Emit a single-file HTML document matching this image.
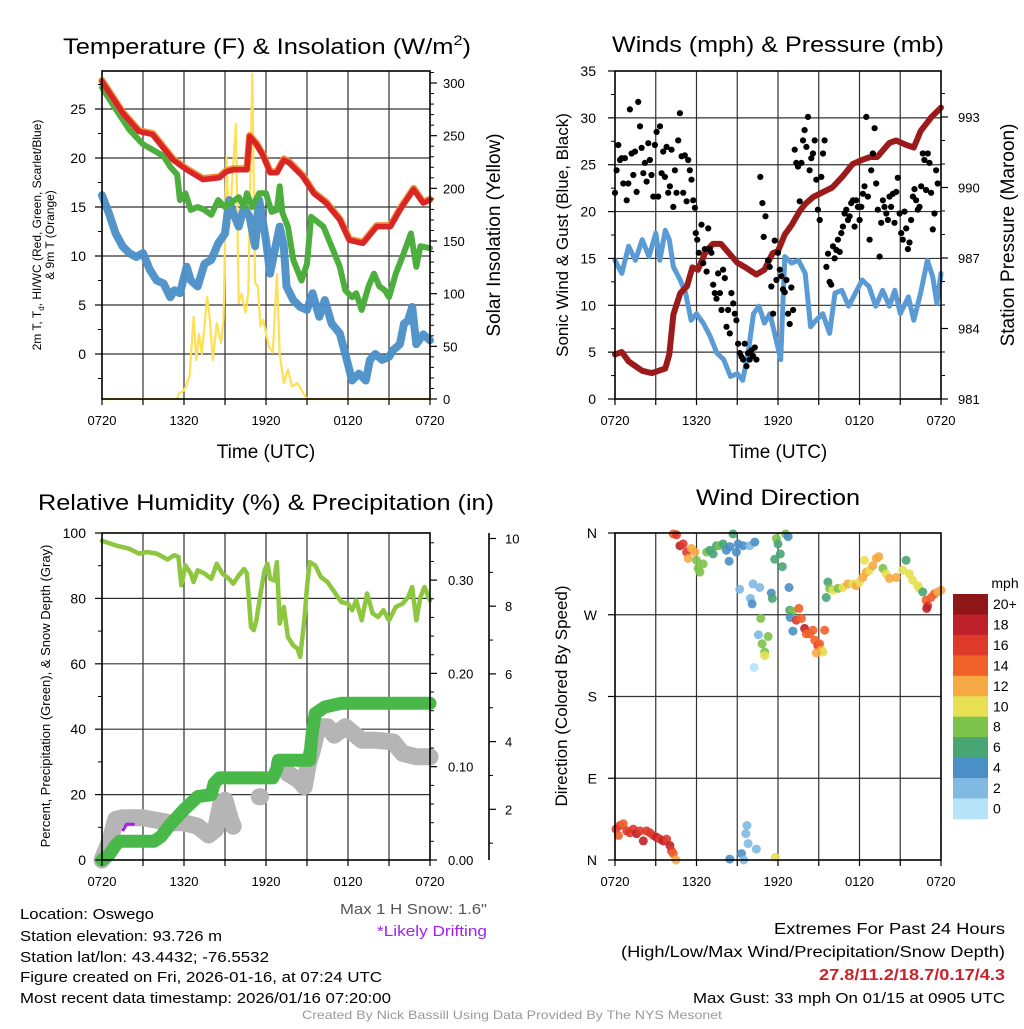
<!DOCTYPE html>
<html><head><meta charset="utf-8"><style>
html,body{margin:0;padding:0;background:#fff;}
svg text{font-family:"Liberation Sans",sans-serif;}
</style></head><body>
<svg id="chart" width="1024" height="1024" viewBox="0 0 1024 1024" xmlns="http://www.w3.org/2000/svg">
<g id="grid"></g>
<g id="marks"></g>
<g id="axes"></g>
<text x="267" y="54" font-size="22" text-anchor="middle" textLength="408" lengthAdjust="spacingAndGlyphs">Temperature (F) &amp; Insolation (W/m<tspan dy="-9" font-size="14">2</tspan><tspan dy="9">)</tspan></text>
<text x="778" y="52" font-size="22" text-anchor="middle" textLength="332" lengthAdjust="spacingAndGlyphs">Winds (mph) &amp; Pressure (mb)</text>
<text x="266" y="510" font-size="22" text-anchor="middle" textLength="456" lengthAdjust="spacingAndGlyphs">Relative Humidity (%) &amp; Precipitation (in)</text>
<text x="778" y="505" font-size="22" text-anchor="middle" textLength="164" lengthAdjust="spacingAndGlyphs">Wind Direction</text>
<text x="266" y="458" font-size="19" text-anchor="middle">Time (UTC)</text>
<text x="778" y="458" font-size="19" text-anchor="middle">Time (UTC)</text>
<text transform="translate(41,235) rotate(-90)" font-size="12" text-anchor="middle">2m T, T<tspan dy="3" font-size="8">d</tspan><tspan dy="-3">, HI/WC (Red, Green, Scarlet/Blue)</tspan></text>
<text transform="translate(54,235) rotate(-90)" font-size="12" text-anchor="middle">&amp; 9m T (Orange)</text>
<text transform="translate(500,235) rotate(-90)" font-size="19" text-anchor="middle">Solar Insolation (Yellow)</text>
<text transform="translate(568,235) rotate(-90)" font-size="17" text-anchor="middle">Sonic Wind &amp; Gust (Blue, Black)</text>
<text transform="translate(1014,235) rotate(-90)" font-size="19" text-anchor="middle">Station Pressure (Maroon)</text>
<text transform="translate(50,696) rotate(-90)" font-size="13" text-anchor="middle">Percent, Precipitation (Green), &amp; Snow Depth (Gray)</text>
<text transform="translate(567,696) rotate(-90)" font-size="17" text-anchor="middle">Direction (Colored By Speed)</text>
<text x="1005" y="588" font-size="14" text-anchor="middle">mph</text>
<g id="colorbar"></g>
<g font-size="15">
<text x="20" y="919" textLength="134" lengthAdjust="spacingAndGlyphs">Location: Oswego</text>
<text x="20" y="941" textLength="202" lengthAdjust="spacingAndGlyphs">Station elevation: 93.726 m</text>
<text x="20" y="962" textLength="249" lengthAdjust="spacingAndGlyphs">Station lat/lon: 43.4432; -76.5532</text>
<text x="20" y="982" textLength="362" lengthAdjust="spacingAndGlyphs">Figure created on Fri, 2026-01-16, at 07:24 UTC</text>
<text x="20" y="1003" textLength="371" lengthAdjust="spacingAndGlyphs">Most recent data timestamp: 2026/01/16 07:20:00</text>
</g>
<text x="487" y="914" font-size="15" text-anchor="end" fill="#555" textLength="147" lengthAdjust="spacingAndGlyphs">Max 1 H Snow: 1.6"</text>
<text x="487" y="936" font-size="15" text-anchor="end" fill="#a020f0" textLength="110" lengthAdjust="spacingAndGlyphs">*Likely Drifting</text>
<text x="1005" y="934" font-size="16" text-anchor="end" textLength="231" lengthAdjust="spacingAndGlyphs">Extremes For Past 24 Hours</text>
<text x="1005" y="957" font-size="16" text-anchor="end" textLength="384" lengthAdjust="spacingAndGlyphs">(High/Low/Max Wind/Precipitation/Snow Depth)</text>
<text x="1005" y="980" font-size="16" font-weight="bold" fill="#cc2229" text-anchor="end" textLength="186" lengthAdjust="spacingAndGlyphs">27.8/11.2/18.7/0.17/4.3</text>
<text x="1005" y="1003" font-size="15" text-anchor="end" textLength="312" lengthAdjust="spacingAndGlyphs">Max Gust: 33 mph On 01/15 at 0905 UTC</text>
<text x="512" y="1019" font-size="12" fill="#999" text-anchor="middle" textLength="420" lengthAdjust="spacingAndGlyphs">Created By Nick Bassill Using Data Provided By The NYS Mesonet</text>
</svg>
<script>
const xTickLabels = ["0720","1320","1920","0120","0720"];
const xTickHours = [0,6,12,18,24];
const redHours = [0,1.5,2.7,3.7,5.2,6.2,7.4,8.6,9.1,9.6,10.6,10.8,11.3,11.8,12.3,12.8,13.3,13.7,14.7,15.5,16.4,17.4,18.1,19.1,20.1,21.1,21.8,22.8,23.5,24];
const redTemps = [27.8,24.6,22.7,22.4,19.8,18.8,17.8,18,18.6,18.8,18.8,22.2,21.4,20.2,18.5,18.5,19.8,19.5,18.1,16.4,15.4,13.7,11.6,11.3,13,13,14.7,16.8,15.4,15.7];
const greenHours = [0,1,2,3,3.5,4.5,5,5.5,5.7,6.1,6.5,7,7.5,8,8.5,9,9.4,10,10.4,10.6,11,11.5,12,12.4,12.8,13,13.2,13.6,14,14.6,15,15.3,16.2,17,17.4,17.8,18.3,18.6,19,19.5,19.9,20.3,20.7,21,21.5,22,22.6,23,23.3,24];
const greenTemps = [27.2,25,22.9,21.4,21,20.2,19.1,18.3,15.7,16.4,14.7,15,14.7,14.2,15.7,15,15.4,16,15,16.4,15,16.4,16.4,14.5,14.7,17.1,14.4,13,9.6,7.5,9.2,14,13,10.3,8.9,6.5,5.8,6.2,4.5,6.9,8.2,6.9,6.5,5.8,8.2,10,12.3,8.9,11,10.8];
const blueHours = [0,0.5,1,1.5,2,2.5,3,3.5,4,4.5,5,5.3,5.7,6.2,6.5,7,7.5,8,8.5,9,9.3,9.6,10,10.4,10.8,11.2,11.5,12,12.3,12.6,13,13.3,13.5,14,14.5,15,15.4,15.9,16.3,16.8,17.4,17.8,18.3,18.8,19.3,19.6,20,20.5,21,21.3,21.8,22.1,22.4,22.7,23,23.5,24];
const blueTemps = [16.2,14.4,12.3,11,10.3,9.9,10.3,8.6,7.5,7.2,5.8,6.5,6.2,8.9,7.5,6.9,9.2,9.6,11.3,12.3,15.7,14.4,13,15,14,11,15.7,11.6,8.2,10.3,13,11,6.9,5.5,4.8,4.5,6.2,3.8,5.5,3.1,2.1,0,-2.7,-2,-2.7,-0.6,0,-0.6,-0.3,0.4,1,3.1,3.4,4.8,1,2,1.4];
const solarHours = [0,5.5,5.6,6,6.4,6.7,6.9,7.1,7.3,7.7,7.9,8.1,8.4,8.7,8.9,9.1,9.3,9.5,9.8,10,10.2,10.5,10.7,11,11.2,11.4,11.6,11.8,12.2,12.5,12.8,13,13.3,13.6,13.9,14.3,15,24];
const solarVals = [0,0,5,8,21,78,37,62,43,97,75,37,72,53,75,230,163,201,261,91,100,82,100,309,110,107,69,75,50,44,119,43,15,28,12,15,0,0];
const windHours = [0,0.5,1,1.5,2,2.5,3,3.3,3.7,4,4.3,4.8,5.2,5.6,6,6.5,7,7.5,8,8.5,9,9.4,9.8,10.2,10.6,11,11.4,11.8,12.2,12.5,13,13.5,14,14.4,14.8,15.3,15.8,16.2,16.7,17.2,17.7,18.2,18.7,19.2,19.7,20.2,20.6,21,21.6,22,22.5,23,23.4,23.7,24];
const windVals = [14.8,13.4,16.3,14.8,17,15.2,17.7,14.8,18,17,14.1,12.7,11.3,8.4,9.1,8.1,6.7,4.9,4.2,2.4,2.7,2,4.9,9.1,9.9,8.1,9.1,6.7,4.2,15.2,14.5,14.8,13.4,7.7,8.4,9.1,7,11.3,11.6,9.9,11.3,12.7,12,9.9,11.6,9.9,11.6,9.1,10.9,8.4,11.3,14.8,13,10.2,13.4];
const gustHours = [0,0.12,0.24,0.37,0.49,0.61,0.73,0.86,0.98,1.1,1.22,1.35,1.47,1.59,1.71,1.84,1.96,2.08,2.2,2.33,2.45,2.57,2.69,2.82,2.94,3.06,3.18,3.31,3.43,3.55,3.67,3.8,3.92,4.04,4.16,4.29,4.41,4.53,4.65,4.78,4.9,5.02,5.14,5.27,5.39,5.51,5.63,5.76,5.88,5.95,6.05,6.17,6.37,6.49,6.61,6.74,6.86,6.98,7.1,7.23,7.35,7.47,7.59,7.72,7.84,7.96,8.08,8.21,8.33,8.45,8.57,8.7,8.82,8.94,9.06,9.19,9.31,9.43,9.55,9.68,9.8,9.92,10.04,10.16,10.29,10.41,10.7,10.85,10.95,11.08,11.27,11.39,11.51,11.64,11.76,11.88,12,12.13,12.25,12.37,12.49,12.62,12.74,12.86,12.98,13.11,13.23,13.35,13.47,13.6,13.72,13.84,13.96,14.09,14.21,14.33,14.45,14.58,14.7,14.82,14.94,15.07,15.19,15.31,15.43,15.56,15.68,15.8,15.92,16.05,16.17,16.29,16.41,16.54,16.66,16.78,16.9,17.03,17.15,17.27,17.39,17.52,17.64,17.76,17.88,18.01,18.13,18.25,18.37,18.5,18.62,18.74,18.86,18.99,19.11,19.23,19.35,19.48,19.6,19.72,19.84,19.97,20.09,20.21,20.33,20.46,20.58,20.7,20.82,20.95,21.07,21.19,21.31,21.44,21.56,21.68,21.8,21.93,22.05,22.17,22.29,22.42,22.54,22.66,22.78,22.9,23.03,23.15,23.27,23.4,23.52,23.64,23.76];
const gustVals = [22,24.4,27.1,25.5,25.7,23,25.7,21.2,23,30.9,26.2,23.9,26.4,22.1,31.7,29.1,26.8,24.1,25.2,23.2,27.3,25.5,23.9,21.6,27.1,28.5,21.6,29.1,24.1,26.4,23.7,26.9,22,22.7,26.6,20.5,24.4,22,27.6,30.5,25.9,22,26,21.1,25.5,24.4,23.4,21.2,20.4,17.7,17,15.6,18.6,14.5,16,13.6,18.2,16,15.6,12.2,11.3,10.7,13.4,11.3,9.5,13.8,12.9,7.7,9.5,7,11.3,10.2,9.1,8.4,5.9,4.9,4.5,4.2,5.9,3.5,4.9,4.2,5.2,4.6,5.5,4.2,23.7,20.9,17.3,19.5,14.8,14.1,12,9.1,16.9,12.7,15.6,13.8,13.1,11.7,11.4,12.7,9.1,8,11.9,9.5,26.6,25.2,24.8,21.1,25.2,27.6,28.7,26.9,30.1,24.4,25.7,26.2,27.6,23.4,20.2,19.1,23.7,26.2,27.6,14.1,15.5,12.5,12.2,16.3,15,15.9,17,15.7,17.7,18.4,19.8,20.2,19.1,19.5,20.9,21.2,18.4,21.2,20.5,19.1,20.5,21.9,22.7,30.1,21.6,17,24.4,26.2,28.9,23,20.2,15.2,18.8,21.2,20.5,19.8,19.1,21.6,20.5,21.9,18.8,22.1,23.6,19.8,17.7,17,20,18.2,16,16.7,19.1,21.6,22.4,21.2,20.2,20.5,22.7,26.2,25.5,22.3,26.2,25.2,22,18.1,19.8,24.4,23];
const pressHours = [0,0.5,1,1.5,2,2.7,3.2,3.7,4,4.3,4.8,5.3,5.7,6.1,6.7,7.2,7.8,8.4,9,9.6,10.4,11,11.6,12,12.5,13,13.6,14,14.6,15.3,16,16.8,17.5,18.3,18.8,19.3,20.2,20.7,21.5,22,22.5,23.3,24];
const pressVals = [982.9,983,982.6,982.4,982.2,982.1,982.2,982.3,982.9,984.6,985.5,985.8,986.6,986.5,987.3,987.6,987.6,987.2,986.8,986.6,986.3,986.5,987.2,987.3,988,988.4,989,989.3,989.6,989.8,990,990.5,991,991.2,991.3,991.3,991.9,992,991.8,991.7,992.4,993,993.4];
const rhHours = [0,1,2,2.7,3.3,4,4.8,5.3,5.6,5.8,6.1,6.5,6.7,7,7.5,8,8.4,8.8,9.3,9.6,10,10.4,10.6,10.9,11.1,11.3,11.6,11.9,12.1,12.3,12.6,12.8,13,13.3,13.6,14,14.3,14.5,14.8,15,15.2,15.6,16,16.5,17,17.5,18,18.3,18.6,19,19.4,19.8,20.2,20.6,21,21.5,22,22.4,22.7,23,23.3,23.6,24];
const rhVals = [97.6,96.2,95.2,93.7,94.2,93.7,91.9,93.2,92.7,84,90.1,87.6,85,88.6,87.6,86,90.6,87.6,86,84.5,87,89,87.6,71.3,70.3,73.3,81.5,88.6,90.6,86,85.5,91.1,72.3,77.4,68.2,65.6,64.7,62.1,73.3,83.5,91.1,90.1,86.6,85,82,78.9,78.4,76.4,79.4,73.3,81.5,75.4,74.3,76.4,73.3,77.4,78.4,80.4,83.5,73.3,80.4,83.5,79.4];
const precipHours = [0,0.5,1,1.3,3.8,4.3,5,6,7,8,8.2,8.6,12.5,12.8,12.9,15.2,15.3,15.4,15.6,16.3,17.5,24];
const precipVals = [0,0.005,0.016,0.02,0.02,0.025,0.038,0.054,0.068,0.07,0.082,0.088,0.088,0.098,0.107,0.107,0.125,0.138,0.157,0.164,0.168,0.168];
const snowHours = [0,0.6,1,1.5,3,5,6,7,7.8,8.3,8.7,9,9.4,9.6,null,11.5,11.6,null,13,13.6,14.4,14.8,15.1,15.4,15.8,16.5,17,17.8,18.4,19,20,21.3,22,23,24];
const snowVals = [0.5,1.1,1.7,1.75,1.75,1.6,1.6,1.5,1.24,1.4,2.17,2.27,1.7,1.5,null,2.37,2.37,null,3.36,3.06,2.86,2.67,3.36,3.75,4.44,4.44,4.19,4.44,4.24,4.04,4.04,3.99,3.65,3.55,3.55];
const driftHours = [1.55,1.8,2.3];
const driftVals = [1.39,1.56,1.56];
const dirHours = [0.07,0.25,0.37,0.61,0.86,1.1,1.35,1.59,1.84,2.08,2.33,2.57,2.82,3.06,3.31,3.55,3.8,4.04,4.16,4.29,4.48,4.29,4.53,4.78,5.02,5.27,5.39,5.63,5.88,6,6.12,6.25,6.49,6.74,6.98,7.23,7.47,7.71,7.96,8.2,8.45,8.69,8.94,9.06,9.43,9.92,10.29,8.4,9.18,10.16,10.65,9.97,10.09,11.51,11.58,10.73,10.56,10.83,11.02,11.27,11.02,10.24,8.45,9.31,9.48,9.8,9.63,9.72,10.41,11.8,11.88,12,12.17,11.76,12.32,12.56,12.74,12.81,12.86,13.05,12.9,13.1,13.54,13.35,13.72,13.96,14.08,14.33,14.57,14.7,14.94,15.06,15.18,15.31,15.43,14.82,15.55,15.67,15.8,16.04,16.41,16.78,17.14,17.51,17.76,18,18.25,18.49,18.74,18.98,19.23,19.42,19.72,19.96,20.21,20.7,21.19,21.43,21.68,21.92,22.29,22.41,22.66,22.9,23.02,23.27,23.51,23.76,24,18.37,22.95];
const dirDegs = [34,27,38,40,32,30,34,29,32,21,32,30,27,25,23,21,23,16,10,7,0,359,358,346,348,339,332,343,339,330,321,317,326,339,341,337,346,346,348,341,345,359,339,348,346,346,350,329,298,304,300,288,282,294,288,266,248,238,229,246,225,212,1,7,0,18,29,38,12,3,354,348,337,331,323,359,356,300,275,274,267,252,277,264,266,255,249,249,253,242,236,238,231,229,253,228,289,306,299,297,299,300,304,304,302,306,311,317,319,324,332,334,321,315,310,311,319,330,315,308,302,299,295,286,280,289,293,295,297,330,277];
const dirSpeeds = [16,15,17,15,17,17,16,19,17,18,16,17,17,18,17,18,17,18,16,15,13,14,16,18,17,16,13,12,13,9,9,9,9,9,7,7,7,9,7,5,5,7,5,5,5,3,5,5,3,3,3,3,5,5,7,9,3,9,9,9,11,1,5,5,3,3,3,3,3,11,9,7,7,7,7,9,5,5,7,9,5,5,15,17,15,19,15,15,15,15,17,15,13,11,15,13,7,7,9,11,9,11,13,11,13,11,13,13,11,13,13,13,9,11,13,13,11,7,11,11,11,11,7,15,17,15,15,13,13,11,19];
const speedBinLabels = ["20+","18","16","14","12","10","8","6","4","2","0"];
const speedBinColors = ["#8e1518","#c0202a","#de3a2b","#ef6129","#f7a943","#e6e052","#7cc24b","#48a574","#4a8fc6","#80b9e2","#b6e3f8"];

const NS = "http://www.w3.org/2000/svg";
const gGrid = document.getElementById('grid');
const gMarks = document.getElementById('marks');
const gAxes = document.getElementById('axes');
function mk(tag, parent, attrs) {
  const e = document.createElementNS(NS, tag);
  for (const k in attrs) e.setAttribute(k, attrs[k]);
  parent.appendChild(e);
  return e;
}
function txt(parent, x, y, s, size, anchor) {
  const t = mk('text', parent, {x: x, y: y, 'font-size': size, 'text-anchor': anchor || 'middle'});
  t.textContent = s;
  return t;
}
const panels = {
  p1: {x0: 102, x1: 430, y0: 71, y1: 399},
  p2: {x0: 615, x1: 941, y0: 71, y1: 399},
  p3: {x0: 102, x1: 430, y0: 533, y1: 860},
  p4: {x0: 615, x1: 941, y0: 533, y1: 860}
};
function xScale(p) { return h => p.x0 + h / 24 * (p.x1 - p.x0); }
const x1s = xScale(panels.p1), x2s = xScale(panels.p2), x3s = xScale(panels.p3), x4s = xScale(panels.p4);
const yTemp = t => 354 - t * 9.8;
const ySolar = s => 399 - s * 1.0533;
const yWind = w => 399 - w * 9.371;
const yPress = p => 399 - (p - 981) * 23.5;
const yRH = r => 860 - r * 3.27;
const yPrecip = p => 860 - p * 933;
const ySnow = s => 877 - s * 33.85;
const yDir = d => 860 - d * (327 / 360);

function pathD(hours, vals, xs, ys) {
  let d = '', pen = false;
  for (let i = 0; i < hours.length; i++) {
    if (hours[i] === null || vals[i] === null) { pen = false; continue; }
    d += (pen ? 'L' : 'M') + xs(hours[i]).toFixed(1) + ',' + ys(vals[i]).toFixed(1);
    pen = true;
  }
  return d;
}
function series(hours, vals, xs, ys, color, w, name, op) {
  const el = mk('path', gMarks, {d: pathD(hours, vals, xs, ys), fill: 'none', stroke: color, 'stroke-width': w, 'stroke-linejoin': 'round', 'stroke-linecap': 'round', opacity: op || 1});
  
  
  return el;
}

function frame(p, hLinesY, name) {
  for (let h = 3; h < 24; h += 3) {
    const x = p.x0 + h / 24 * (p.x1 - p.x0);
    mk('line', gGrid, {x1: x, x2: x, y1: p.y0, y2: p.y1, stroke: '#333', 'stroke-width': 1.2});
  }
  hLinesY.forEach(y => mk('line', gGrid, {x1: p.x0, x2: p.x1, y1: y, y2: y, stroke: '#333', 'stroke-width': 1.2}));
  const r = mk('rect', gAxes, {x: p.x0, y: p.y0, width: p.x1 - p.x0, height: p.y1 - p.y0, fill: 'none', stroke: '#000', 'stroke-width': 1.6});
  
  
  for (let h = 0; h <= 24; h += 3) {
    const x = p.x0 + h / 24 * (p.x1 - p.x0);
    mk('line', gAxes, {x1: x, x2: x, y1: p.y1, y2: p.y1 + 6, stroke: '#000', 'stroke-width': 1.2});
  }
  xTickHours.forEach((h, i) => {
    const t = txt(gAxes, p.x0 + h / 24 * (p.x1 - p.x0), p.y1 + 26, xTickLabels[i], 13);
    
    
  });
}
frame(panels.p1, [0,5,10,15,20,25].map(yTemp), 'temperature-plot-area');
frame(panels.p2, [5,10,15,20,25,30].map(yWind), 'wind-plot-area');
frame(panels.p3, [20,40,60,80].map(yRH), 'humidity-plot-area');
frame(panels.p4, [90,180,270].map(yDir), 'direction-plot-area');

function yAxisTicks(xAxis, vals, ys, labels, side, labelX, size, minor) {
  vals.forEach((v, i) => {
    const y = ys(v);
    const dx = side === 'left' ? -7 : 7;
    mk('line', gAxes, {x1: xAxis, x2: xAxis + dx, y1: y, y2: y, stroke: '#000', 'stroke-width': 1.2});
    if (labels[i] !== '') {
      const t = txt(gAxes, labelX, y + 5, labels[i], size, side === 'left' ? 'end' : 'start');
      
      
    }
  });
  (minor || []).forEach(v => {
    const y = ys(v);
    const dx = side === 'left' ? -4 : 4;
    mk('line', gAxes, {x1: xAxis, x2: xAxis + dx, y1: y, y2: y, stroke: '#000', 'stroke-width': 1});
  });
}
yAxisTicks(102, [0,5,10,15,20,25], yTemp, ['0','5','10','15','20','25'], 'left', 86, 14, [-2.5,2.5,7.5,12.5,17.5,22.5,27.5]);
yAxisTicks(430, [0,50,100,150,200,250,300], ySolar, ['0','50','100','150','200','250','300'], 'right', 443, 13, [10,20,30,40,60,70,80,90,110,120,130,140,160,170,180,190,210,220,230,240,260,270,280,290,310]);
yAxisTicks(615, [0,5,10,15,20,25,30,35], yWind, ['0','5','10','15','20','25','30','35'], 'left', 596, 14, [2.5,7.5,12.5,17.5,22.5,27.5,32.5]);
yAxisTicks(941, [981,984,987,990,993], yPress, ['981','984','987','990','993'], 'right', 958, 13, [982,983,985,986,988,989,991,992,994]);
yAxisTicks(102, [0,20,40,60,80,100], yRH, ['0','20','40','60','80','100'], 'left', 86, 14, [10,30,50,70,90]);
yAxisTicks(430, [0,0.1,0.2,0.3], yPrecip, ['0.00','0.10','0.20','0.30'], 'right', 448, 13, [0.02,0.04,0.06,0.08,0.12,0.14,0.16,0.18,0.22,0.24,0.26,0.28,0.32,0.34]);
mk('line', gAxes, {x1: 489, x2: 489, y1: 533, y2: 860, stroke: '#000', 'stroke-width': 1.6});
yAxisTicks(489, [2,4,6,8,10], ySnow, ['2','4','6','8','10'], 'right', 505, 13, [1,3,5,7,9]);
yAxisTicks(615, [0,90,180,270,360], yDir, ['N','E','S','W','N'], 'left', 597, 14, []);

series(solarHours, solarVals, x1s, ySolar, '#ffe055', 2.2, 'solar-insolation-line');
series(blueHours, blueTemps, x1s, yTemp, '#4a8fc8', 8, 'windchill-line', 0.95);
series(greenHours, greenTemps, x1s, yTemp, '#4cae3c', 6, 'dewpoint-line');
series(redHours, redTemps.map(v => v + 0.1), x1s, yTemp, '#f28c3a', 7, 'temp-9m-line');
series(redHours, redTemps, x1s, yTemp, '#d92525', 5.5, 'temp-2m-line');

series(windHours, windVals, x2s, yWind, '#5b9bd5', 5, 'sonic-wind-line');
series(pressHours, pressVals, x2s, yPress, '#9b1b1b', 6, 'pressure-line');
gustHours.forEach((h, i) => {
  const c = mk('circle', gMarks, {cx: x2s(h).toFixed(1), cy: yWind(gustVals[i]).toFixed(1), r: 3.1, fill: '#000'});
  
  
});

series(rhHours, rhVals, x3s, yRH, '#8dc63f', 4.5, 'humidity-line');
series(snowHours, snowVals, x3s, ySnow, '#b5b5b5', 17, 'snow-depth-line');
series(driftHours, driftVals, x3s, ySnow, '#a020f0', 3, 'drifting-line');
series(precipHours, precipVals, x3s, yPrecip, '#48b848', 13, 'precipitation-line');

function speedColor(s) {
  let idx = 10 - Math.floor(s / 2);
  if (idx < 0) idx = 0;
  if (idx > 10) idx = 10;
  return speedBinColors[idx];
}
dirHours.forEach((h, i) => {
  const c = mk('circle', gMarks, {cx: x4s(h).toFixed(1), cy: yDir(dirDegs[i]).toFixed(1), r: 4.5, fill: speedColor(dirSpeeds[i]), opacity: 0.9});
  
  
});

const cb = document.getElementById('colorbar');
speedBinLabels.forEach((lab, i) => {
  const y = 594 + i * 20.45;
  const r = mk('rect', cb, {x: 953, y: y.toFixed(1), width: 35, height: 20.8, fill: speedBinColors[i]});
  
  
  const t = txt(cb, 993, y + 15, lab, 14, 'start');
  
  
});
</script>
</body></html>
